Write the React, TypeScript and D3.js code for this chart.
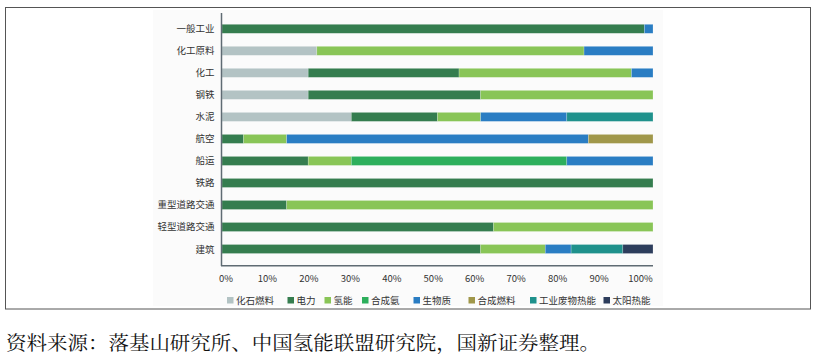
import React from "react";
import * as d3 from "d3";

const categories = ["一般工业", "化工原料", "化工", "钢铁", "水泥", "航空", "船运", "铁路", "重型道路交通", "轻型道路交通", "建筑"];
const seriesNames = ["化石燃料", "电力", "氢能", "合成氨", "生物质", "合成燃料", "工业废物热能", "太阳热能"];
const fossil = [0, 22, 20, 20, 30, 0, 0, 0, 0, 0, 0];
const power = [98, 0, 35, 40, 20, 5, 20, 100, 15, 63, 60];
const hydrogen = [0, 62, 40, 40, 10, 10, 10, 0, 85, 37, 15];
const ammonia = [0, 0, 0, 0, 0, 0, 50, 0, 0, 0, 0];
const biomass = [2, 16, 5, 0, 20, 70, 20, 0, 0, 0, 6];
const synfuel = [0, 0, 0, 0, 0, 15, 0, 0, 0, 0, 0];
const wasteHeat = [0, 0, 0, 0, 20, 0, 0, 0, 0, 0, 12];
const solarHeat = [0, 0, 0, 0, 0, 0, 0, 0, 0, 0, 7];
const seriesValues = [fossil, power, hydrogen, ammonia, biomass, synfuel, wasteHeat, solarHeat];
const colors = ["#b3c3c4", "#357d4f", "#89c557", "#2daf5c", "#2a7dc3", "#a0974a", "#1f918c", "#2d3d5c"];
const tickValues = [0, 10, 20, 30, 40, 50, 60, 70, 80, 90, 100];
const source = "资料来源：落基山研究所、中国氢能联盟研究院，国新证券整理。";

const FONT = "'Noto Sans CJK SC', 'Noto Sans', sans-serif";

export default function App() {
  const rows = categories.map((c, i) => {
    const r: any = { cat: c };
    seriesNames.forEach((s, j) => (r[s] = seriesValues[j][i]));
    return r;
  });
  const stacked = d3.stack().keys(seriesNames)(rows);

  const x = d3.scaleLinear().domain([0, 100]).range([222, 653]);
  const xLabel = d3.scaleLinear().domain([0, 100]).range([226, 640.5]);
  const y = d3.scalePoint().domain(categories).range([28.8, 249]);
  const barH = 9;

  const legendX = [230, 290.5, 327.5, 365, 416.5, 471.5, 533, 606.5];

  return (
    <svg width={816} height={355} style={{ position: "absolute", left: 0, top: 0, background: "#fff" }}>
      <rect x={5.5} y={7.5} width={805} height={301.5} fill="#fff" stroke="#555" strokeWidth={1} />
      <rect x={153} y={10} width={510} height={296} fill="#fbfbfb" />
      {stacked.map((s, si) => (
        <g key={s.key} fill={colors[si]}>
          {s.map((d, i) =>
            d[1] - d[0] > 0 ? (
              <rect
                key={i}
                x={x(d[0])}
                y={(y(categories[i]) as number) - barH / 2}
                width={x(d[1]) - x(d[0])}
                height={barH}
                stroke="rgba(255,255,255,0.35)"
                strokeWidth={0.6}
              />
            ) : null
          )}
        </g>
      ))}
      <line x1={221.5} x2={221.5} y1={13} y2={266} stroke="#5f6b73" strokeWidth={1.5} />
      <line x1={221} x2={653} y1={265.8} y2={265.8} stroke="#5f6b73" strokeWidth={1.5} />
      {categories.map((c) => (
        <text key={c} x={214.5} y={(y(c) as number) + 3.5} textAnchor="end" fontSize={9.5} fill="#333" fontFamily={FONT}>
          {c}
        </text>
      ))}
      {tickValues.map((t) => (
        <text key={t} x={xLabel(t)} y={281.5} textAnchor="middle" fontSize={9.5} fill="#333" fontFamily={FONT}>
          {t + "%"}
        </text>
      ))}
      {seriesNames.map((s, i) => (
        <g key={s}>
          <rect x={legendX[i] - 3} y={297} width={6.5} height={6.5} fill={colors[i]} />
          <text x={legendX[i] + 6} y={303.8} fontSize={9.5} fill="#333" fontFamily={FONT}>
            {s}
          </text>
        </g>
      ))}
      <text x={6} y={350} fontSize={19} fill="#111" fontFamily="'Noto Serif CJK SC', 'Noto Sans CJK SC', serif" textLength={594} lengthAdjust="spacingAndGlyphs">
        {source}
      </text>
    </svg>
  );
}
